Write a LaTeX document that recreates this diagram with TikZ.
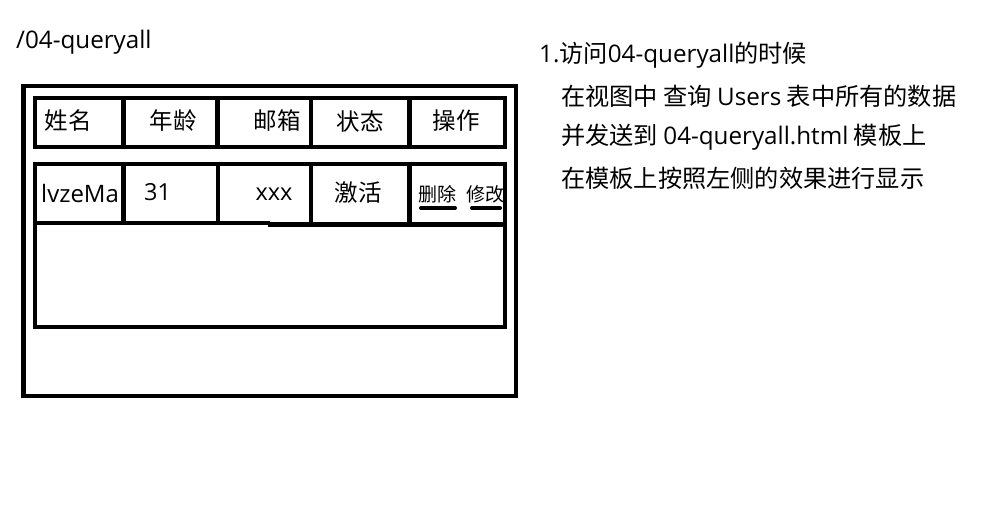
\documentclass[tikz,border=0pt]{standalone}
\usepackage{fontspec}
\newfontfamily\cjk{Noto Sans CJK SC}
\newfontfamily\lat{Open Sans}
\begin{document}
\begin{tikzpicture}[x=1pt,y=-1pt,
  frame/.style={draw=black,line width=4.5pt},
  sep/.style={draw=black,line width=4.5pt},
  txt/.style={font=\cjk\fontsize{23.5}{27}\selectfont, inner sep=0pt},
  note/.style={font=\cjk\fontsize{24.2}{28}\selectfont, inner sep=0pt, anchor=west},
  small/.style={font=\cjk\fontsize{19}{22}\selectfont, inner sep=0pt},
  uline/.style={draw=black,line width=4pt,line cap=round}]
\useasboundingbox[fill=white] (0,0) rectangle (996,530);
% title
\node[note] (title) at (16,42) {\lat /04-queryall};
% outer frame
\draw[frame] (23.5,86) rectangle (516,396);
% header row
\draw[frame] (35,98) rectangle (505,147);
\draw[sep] (123.5,98) -- (123.5,147);
\draw[sep] (217.5,98) -- (217.5,147);
\draw[sep] (311,98) -- (311,147);
\draw[sep] (409.5,98) -- (409.5,147);
\node[txt] (h1) at (68,121) {姓名};
\node[txt] (h2) at (173,121) {年龄};
\node[txt] (h3) at (277,121) {邮箱};
\node[txt] (h4) at (360,121) {状态};
\node[txt] (h5) at (456,121) {操作};
% data table
\draw[frame] (35,164) rectangle (505,327);
\draw[sep] (33,223) -- (270,223);
\draw[sep] (268,224.5) -- (505,224.5);
\node[txt,anchor=west,font=\lat\fontsize{24}{27}\selectfont] (d1) at (41,193) {lvzeMa};
\fill[white] (121,166) rectangle (126,221);
\draw[sep] (123.5,164) -- (123.5,223);
\draw[sep] (218,164) -- (218,223);
\draw[sep] (311,164) -- (311,224);
\draw[sep] (409.5,164) -- (409.5,224);
\node[txt,anchor=west] (d2) at (144,192) {\lat 31};
\node[txt] (d3) at (274,194) {\lat xxx};
\node[txt] (d4) at (358,193) {激活};
\node[small] (del) at (437.5,194) {删除};
\node[small] (mod) at (485.5,194) {修改};
\draw[uline] (421,208) -- (455,208);
\draw[uline] (472,208) -- (500,208);
% notes
\node[note] (n1) at (539,55) {{\lat 1.}访问{\lat 04-queryall}的时候};
\node[note] (n2) at (561,96) {在视图中 查询 {\lat Users} 表中所有的数据};
\node[note] (n3) at (561,137) {并发送到 {\lat 04-queryall.html} 模板上};
\node[note] (n4) at (561,178) {在模板上按照左侧的效果进行显示};
\end{tikzpicture}
\end{document}
